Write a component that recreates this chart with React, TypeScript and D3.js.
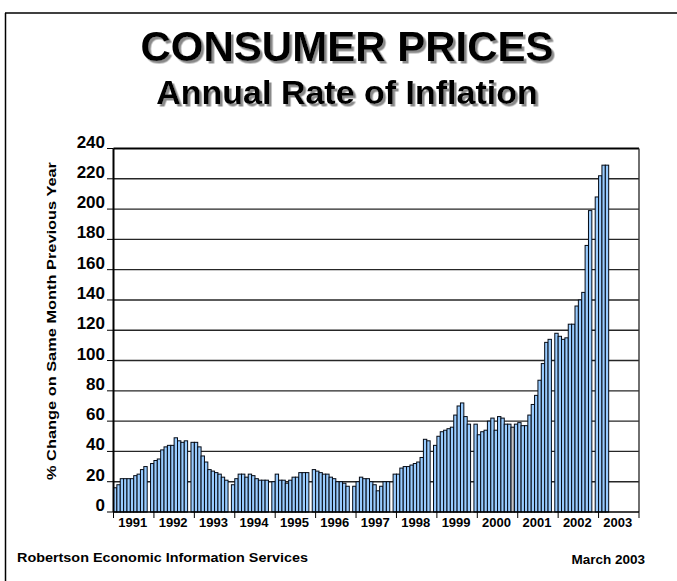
import React, { useEffect, useRef } from 'react';
import * as d3 from 'd3';

// tick labels
const years = ['1991', '1992', '1993', '1994', '1995', '1996', '1997', '1998', '1999', '2000', '2001', '2002', '2003'];
const yTicks = [0, 20, 40, 60, 80, 100, 120, 140, 160, 180, 200, 220, 240];

// % change on same month previous year, null = month not plotted
const rate1991 = [16, 18, 22, 22, 22, 22, 24, 25, 28, 30, null];
const rate1992 = [32, 34, 35, 41, 43, 44, 44, 49, 47, 46, 47, null];
const rate1993 = [46, 46, 43, 37, 33, 28, 27, 26, 25, 23, 21, null];
const rate1994 = [18, 22, 25, 25, 23, 25, 24, 22, 21, 21, 21, null];
const rate1995 = [20, 25, 21, 21, 19, 21, 23, 23, 26, 26, 26, null];
const rate1996 = [28, 27, 26, 25, 25, 23, 22, 20, 20, 19, 17, null];
const rate1997 = [17, 20, 23, 22, 22, 20, 18, 14, 17, 20, 20, null];
const rate1998 = [25, 25, 29, 30, 30, 31, 32, 33, 36, 48, 47, null];
const rate1999 = [44, 50, 53, 54, 55, 56, 64, 70, 72, 63, 58, null];
const rate2000 = [58, 51, 53, 54, 60, 62, 54, 63, 62, 58, 58, 56];
const rate2001 = [58, 59, 57, 57, 64, 71, 77, 87, 98, 112, 114, null];
const rate2002 = [118, 116, 114, 115, 124, 124, 136, 140, 145, 176, 199, null];
const rate2003 = [208, 222, 229, 229];

// the one bar shown in grey
const greyMonths = ['2000-11'];

const yearRates = [rate1991, rate1992, rate1993, rate1994, rate1995, rate1996, rate1997,
  rate1998, rate1999, rate2000, rate2001, rate2002, rate2003];

const font = '"Liberation Sans", Arial, sans-serif';

export default function App() {
  const ref = useRef<SVGSVGElement>(null);

  useEffect(() => {
    const svg = d3.select(ref.current);
    svg.selectAll('*').remove();

    const width = 677, height = 581;
    const left = 113.5, right = 639, top = 148.5, bottom = 512;

    // flatten the yearly arrays into one slot per month
    const months: { i: number; key: string; v: number | null }[] = [];
    yearRates.forEach((arr, yi) => {
      arr.forEach((v, m) => {
        months.push({ i: months.length, key: years[yi] + '-' + m, v });
      });
    });

    const x = d3.scaleBand<number>().domain(d3.range(156)).range([left, right]).padding(0);
    const y = d3.scaleLinear().domain([0, 240]).range([bottom, top]);

    // drop shadow for the titles
    svg.append('defs').append('filter').attr('id', 'shadow')
      .attr('x', '-5%').attr('y', '-20%').attr('width', '110%').attr('height', '140%')
      .append('feDropShadow')
      .attr('dx', 2.5).attr('dy', 2.5).attr('stdDeviation', 0.4)
      .attr('flood-color', '#8a8a8a').attr('flood-opacity', 1);

    // frame
    svg.append('line').attr('x1', 5).attr('x2', width).attr('y1', 13).attr('y2', 13)
      .attr('stroke', '#000').attr('stroke-width', 1.5);
    svg.append('line').attr('x1', 5.5).attr('x2', 5.5).attr('y1', 13).attr('y2', height)
      .attr('stroke', '#000').attr('stroke-width', 1.5);

    svg.append('text').attr('x', 347).attr('y', 61)
      .attr('text-anchor', 'middle').style('font', `bold 42px ${font}`)
      .attr('filter', 'url(#shadow)').text('CONSUMER PRICES');
    svg.append('text').attr('x', 347).attr('y', 104)
      .attr('text-anchor', 'middle').style('font', `bold 34px ${font}`)
      .attr('filter', 'url(#shadow)').text('Annual Rate of Inflation');

    // gridlines
    svg.append('g').selectAll('line').data(yTicks.filter(v => v > 0 && v < 240)).enter().append('line')
      .attr('x1', left).attr('x2', right)
      .attr('y1', d => y(d)).attr('y2', d => y(d))
      .attr('stroke', '#262626').attr('stroke-width', 1.4);

    // bars
    svg.append('g').selectAll('rect').data(months.filter(d => d.v !== null)).enter().append('rect')
      .attr('x', d => x(d.i)!)
      .attr('width', x.bandwidth())
      .attr('y', d => y(d.v as number))
      .attr('height', d => y(0) - y(d.v as number))
      .attr('fill', d => greyMonths.includes(d.key) ? '#c4c4c4' : '#99ccff')
      .attr('stroke', '#050a14').attr('stroke-width', 1);

    // plot border
    svg.append('line').attr('x1', left).attr('x2', right).attr('y1', top).attr('y2', top)
      .attr('stroke', '#000').attr('stroke-width', 2);
    svg.append('line').attr('x1', right).attr('x2', right).attr('y1', top).attr('y2', bottom)
      .attr('stroke', '#333').attr('stroke-width', 1.4);
    svg.append('line').attr('x1', left).attr('x2', left).attr('y1', top).attr('y2', bottom)
      .attr('stroke', '#000').attr('stroke-width', 2);
    svg.append('line').attr('x1', left).attr('x2', right).attr('y1', bottom).attr('y2', bottom)
      .attr('stroke', '#000').attr('stroke-width', 1.5);

    // y axis
    const ya = svg.append('g');
    ya.selectAll('line').data(yTicks).enter().append('line')
      .attr('x1', 107).attr('x2', left).attr('y1', d => y(d)).attr('y2', d => y(d))
      .attr('stroke', '#000').attr('stroke-width', 1);
    ya.selectAll('text').data(yTicks).enter().append('text')
      .attr('x', 105).attr('y', d => y(d) - 1)
      .attr('text-anchor', 'end').style('font', `bold 17px ${font}`)
      .text(d => d);

    svg.append('text')
      .attr('transform', 'translate(56,321) rotate(-90)')
      .attr('text-anchor', 'middle').style('font', `bold 13.5px ${font}`)
      .attr('textLength', 318).attr('lengthAdjust', 'spacingAndGlyphs')
      .text('% Change on Same Month Previous Year');

    // x axis: year ticks and labels
    const xa = svg.append('g');
    xa.selectAll('line').data(d3.range(years.length + 1)).enter().append('line')
      .attr('x1', d => left + d * 12 * x.step()).attr('x2', d => left + d * 12 * x.step())
      .attr('y1', bottom).attr('y2', bottom + 6)
      .attr('stroke', '#000').attr('stroke-width', 1);
    xa.selectAll('text').data(years).enter().append('text')
      .attr('x', (d, i) => x(i * 12 + 6)! - 1)
      .attr('y', 527)
      .attr('text-anchor', 'middle').style('font', `bold 13px ${font}`)
      .text(d => d);

    // footer
    svg.append('text').attr('x', 17).attr('y', 562)
      .style('font', `bold 13px ${font}`)
      .attr('textLength', 291).attr('lengthAdjust', 'spacingAndGlyphs')
      .text('Robertson Economic Information Services');
    svg.append('text').attr('x', 645).attr('y', 564)
      .attr('text-anchor', 'end').style('font', `bold 13.5px ${font}`)
      .text('March 2003');
  }, []);

  return (
    <svg ref={ref} width={677} height={581}
      style={{ position: 'absolute', left: 0, top: 0, background: '#fff' }} />
  );
}
